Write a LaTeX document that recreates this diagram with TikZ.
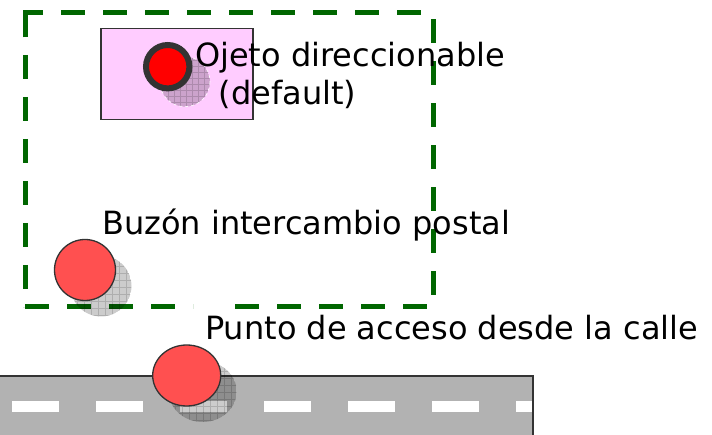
\documentclass[tikz,border=0pt]{standalone}
\usepackage{fontspec}
\setmainfont{DejaVu Sans}
\usetikzlibrary{shapes.geometric}
\definecolor{boxgreen}{RGB}{0,102,0}
\definecolor{pinkfill}{RGB}{255,204,255}
\definecolor{edgegray}{RGB}{51,51,51}
\definecolor{roadgray}{RGB}{178,178,178}
\definecolor{redfill}{RGB}{255,80,80}
\definecolor{pureRed}{RGB}{255,0,0}
\begin{document}
\begin{tikzpicture}[x=1pt,y=-1pt,
  lbl/.style={inner sep=0pt, anchor=base west, font=\fontsize{32}{38}\selectfont},
  greenline/.style={draw=boxgreen, line width=5pt},
  greendash/.style={greenline, dash pattern=on 24pt off 18pt},
  redball/.style={circle, draw=edgegray, fill=redfill, line width=1.3pt, inner sep=0pt},
  redoval/.style={ellipse, draw=edgegray, fill=redfill, line width=1.3pt, inner sep=0pt},
  shadowfill/.style={fill=black, opacity=0.2},
  shadowgrid/.style={draw=black, opacity=0.15, line width=0.6pt}
]
\useasboundingbox (0,0) rectangle (712,435);

% road
\fill[roadgray] (-2,376) rectangle (533,437);
\draw[edgegray, line width=1.5pt] (-2,376) -- (533,376) -- (533,437);
\foreach \k in {0,...,6} {
  \fill[white] ({12+84*\k},401) rectangle ({min(12+84*\k+47,532)},412);
}

% green dashed frame
\draw[greenline, line join=miter] (25,37.3) -- (25,12.3) -- (42.3,12.3);
\draw[greendash] (25,307) -- (193,307);
\draw[greendash] (235,307) -- (433,307);
\draw[greendash, dash phase=30pt] (433,307) -- (433,12.3);
\draw[greendash, dash phase=29.7pt] (433,12.3) -- (42.3,12.3);
\draw[greendash, dash phase=24.3pt] (25,37.3) -- (25,307);

% pink box
\node[draw=edgegray, fill=pinkfill, line width=1.5pt, minimum width=152pt, minimum height=91pt, inner sep=0pt, anchor=north west] (box) at (100,28) {};

% shadows
\begin{scope}
  \clip (185,81.7) circle (25);
  \fill[shadowfill] (185,81.7) circle (25);
  \draw[shadowgrid, step=6pt] (150,50) grid (220,115);
\end{scope}
\draw[white, dashed, line width=0.6pt] (185,81.7) circle (25);

\begin{scope}
  \clip (101,286) circle (30.5);
  \fill[shadowfill] (101,286) circle (30.5);
  \draw[shadowgrid, step=7pt] (65,250) grid (140,320);
\end{scope}

\begin{scope}
  \clip (202.7,391.5) ellipse [x radius=34, y radius=30.5];
  \fill[shadowfill] (202.7,391.5) ellipse [x radius=34, y radius=30.5];
  \draw[shadowgrid, step=7pt] (165,355) grid (240,425);
\end{scope}

% red balls
\node[circle, draw=edgegray, fill=pureRed, line width=6pt, minimum size=43.4pt, inner sep=0pt] (obj) at (167.7,66.7) {};
\node[redball, minimum size=61pt] (buzon) at (85,270) {};
\node[redoval, minimum width=68pt, minimum height=61pt] (acceso) at (186.7,375.5) {};

% labels
\node[lbl] (t1) at (195,67) {Ojeto direccionable};
\node[lbl] (t2) at (218.5,104.5) {(default)};
\node[lbl] (t3) at (102,235) {Buzón intercambio postal};
\node[lbl] (t4) at (205,340) {Punto de acceso desde la calle};
\end{tikzpicture}
\end{document}
